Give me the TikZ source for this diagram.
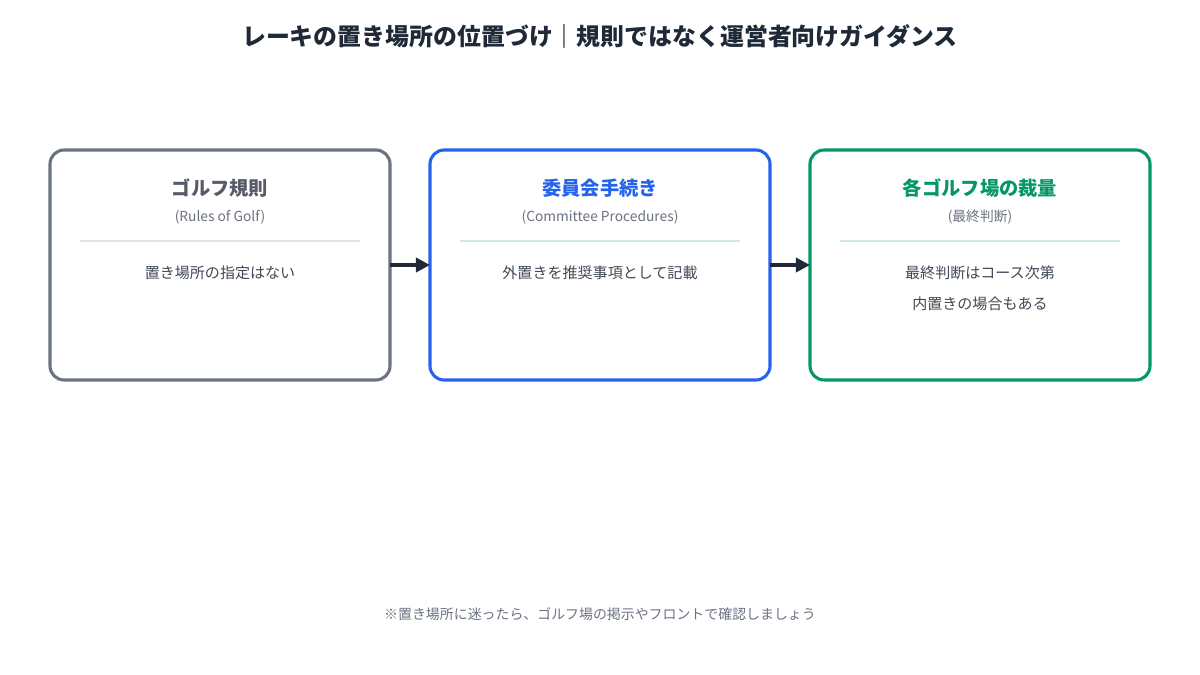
\documentclass[tikz,border=0pt]{standalone}
\usepackage{fontspec}
\setmainfont{Noto Sans CJK JP}
\usetikzlibrary{arrows.meta}
\definecolor{ink}{HTML}{1F2937}
\definecolor{muted}{HTML}{6B7280}
\definecolor{rulegray}{HTML}{6B7280}
\definecolor{cmblue}{HTML}{2563EB}
\definecolor{clgreen}{HTML}{059669}
\tikzset{
  box/.style={draw, line width=2.2pt, rounded corners=10pt, fill=white},
  head/.style={font=\fontsize{13.7}{16}\selectfont\bfseries},
  sub/.style={text=muted, font=\fontsize{9.8}{11}\selectfont},
  body/.style={text=ink!85, font=\fontsize{10.7}{13}\selectfont},
  link/.style={draw=ink, line width=2.6pt, -{Triangle[length=10pt,width=10pt]}},
}
\begin{document}
\begin{tikzpicture}[x=0.025cm, y=-0.025cm]
  % -=-=-=-=- FRAME -=-=-=-=-
  \useasboundingbox (0,0) rectangle (1200,675);
  \node (title) at (600,36) {\fontsize{17}{20}\selectfont\bfseries\color{ink}レーキの置き場所の位置づけ｜規則ではなく運営者向けガイダンス};

  % -=-=-=-=- BOXES -=-=-=-=-
  \draw[box, draw=rulegray] (50,150) rectangle (390,380);
  \draw[box, draw=cmblue] (430,150) rectangle (770,380);
  \draw[box, draw=clgreen] (810,150) rectangle (1150,380);
  \coordinate (r1) at (390,265);
  \coordinate (l2) at (430,265);
  \coordinate (r2) at (770,265);
  \coordinate (l3) at (810,265);

  % rules of golf
  \node[head, text=rulegray!80!black] (h1) at (220,188) {ゴルフ規則};
  \node[sub] (s1) at (220,217) {(Rules of Golf)};
  \draw[rulegray!20, line width=0.8pt] (80,241) -- (360,241);
  \node[body] (b1) at (220,273) {置き場所の指定はない};

  % committee procedures
  \node[head, text=cmblue] (h2) at (600,188) {委員会手続き};
  \node[sub] (s2) at (600,217) {(Committee Procedures)};
  \draw[cmblue!10!clgreen!20, line width=0.8pt] (460,241) -- (740,241);
  \node[body] (b2) at (600,273) {外置きを推奨事項として記載};

  % club discretion
  \node[head, text=clgreen] (h3) at (980,188) {各ゴルフ場の裁量};
  \node[sub] (s3) at (980,217) {(最終判断)};
  \draw[clgreen!20, line width=0.8pt] (840,241) -- (1120,241);
  \node[body] (b3) at (980,273) {最終判断はコース次第};
  \node[body] (b4) at (980,304) {内置きの場合もある};

  % -=-=-=-=- ARROWS -=-=-=-=-
  \draw[link] (r1) -- (l2);
  \draw[link] (r2) -- (l3);

  \node[sub, font=\fontsize{9.9}{12}\selectfont] (note) at (600,614) {※置き場所に迷ったら、ゴルフ場の掲示やフロントで確認しましょう};
\end{tikzpicture}
\end{document}
